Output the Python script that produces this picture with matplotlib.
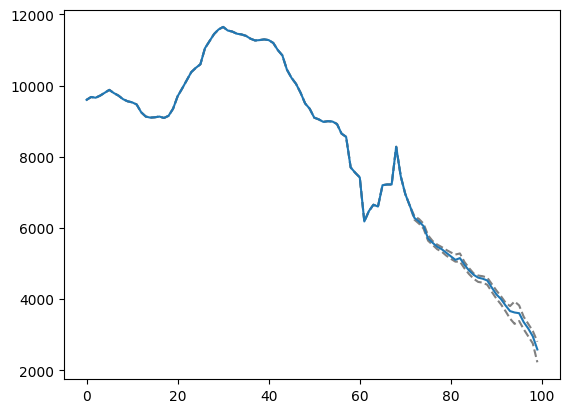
import numpy as np
import matplotlib
matplotlib.use('Agg')
import matplotlib.pyplot as plt

# series values (index 0..99)
values = [9600, 9680, 9660, 9720, 9800, 9880, 9790, 9720, 9620, 9560,
          9530, 9470, 9250, 9130, 9100, 9110, 9130, 9090, 9150, 9350,
          9700, 9920, 10150, 10380, 10500, 10600, 11050, 11250, 11450, 11580,
          11650, 11550, 11520, 11460, 11440, 11400, 11320, 11270, 11280, 11300,
          11280, 11200, 11000, 10850, 10450, 10220, 10050, 9800, 9500, 9350,
          9100, 9050, 8980, 9000, 8990, 8920, 8650, 8560, 7700, 7550,
          7420, 6180, 6470, 6650, 6600, 7200, 7220, 7220, 8280, 7450,
          6950, 6620, 6280, 6180, 6050, 5700, 5580, 5470, 5400, 5300,
          5200, 5100, 5150, 4960, 4800, 4680, 4600, 4570, 4520, 4320,
          4130, 4000, 3820, 3660, 3620, 3600, 3350, 3170, 2950, 2580]

# upper / lower dashed bands, same as the series up to x=71
upper_tail = [6330, 6250, 6120, 5790, 5630, 5530, 5460, 5380, 5310,
              5250, 5280, 5040, 4870, 4720, 4660, 4640, 4600, 4420,
              4240, 4080, 3900, 3800, 3930, 3820, 3500, 3300, 3100, 2800]
lower_tail = [6230, 6120, 5980, 5640, 5520, 5400, 5330, 5220, 5130,
              5050, 5050, 4860, 4700, 4570, 4480, 4460, 4400, 4200,
              4010, 3850, 3660, 3450, 3300, 3380, 3150, 2950, 2750, 2220]

x = np.arange(len(values))
upper = values[:72] + upper_tail
lower = values[:72] + lower_tail

fig = plt.figure(figsize=(5.69, 4.14), dpi=100)
ax = fig.add_axes([0.1125, 0.082, 0.8715, 0.891])
ax.plot(x, upper, '--', color='gray')
ax.plot(x, lower, '--', color='gray')
ax.plot(x, values)

fig.savefig('out.png', dpi=100)
